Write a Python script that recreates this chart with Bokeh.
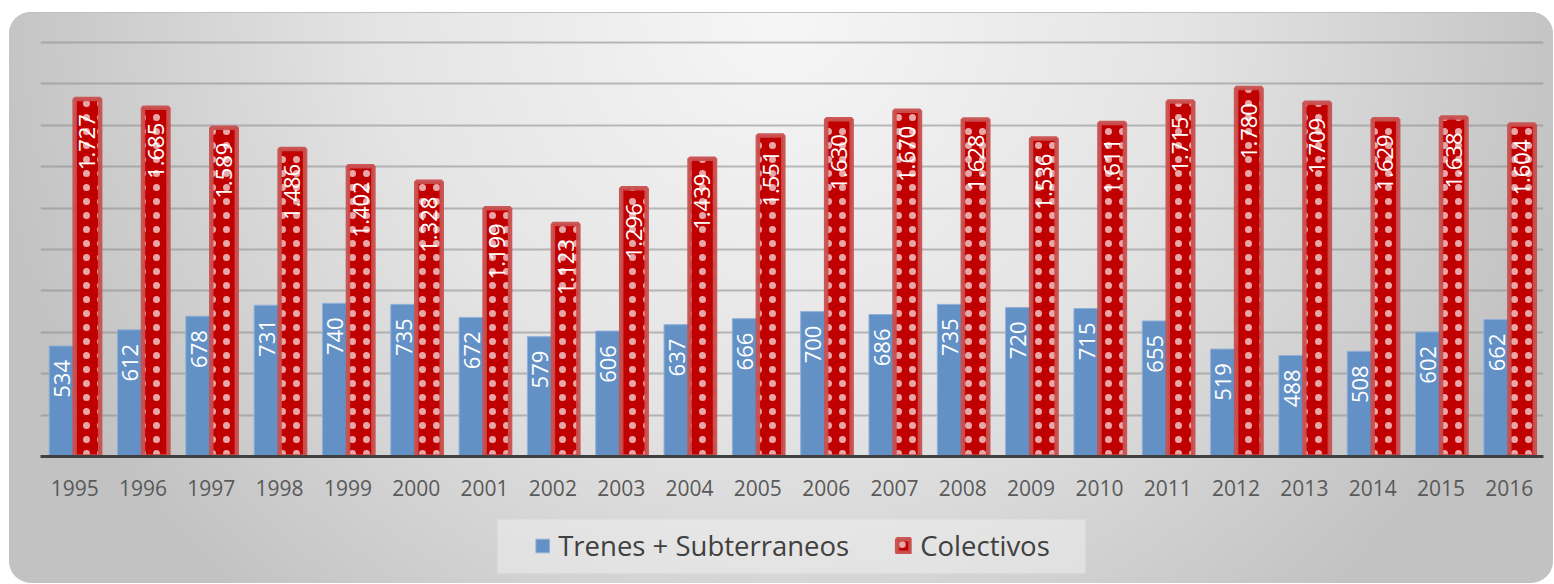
import math
from bokeh.plotting import figure
from bokeh.layouts import column
from bokeh.models import (ColumnDataSource, FactorRange, Range1d, Legend, LegendItem,
                          SingleIntervalTicker, BoxAnnotation)
from bokeh.transform import dodge
from bokeh.core.properties import value
from bokeh.embed import file_html
from bokeh.resources import INLINE

# ---- data ----
years = [str(y) for y in range(1995, 2017)]
trenes = [534, 612, 678, 731, 740, 735, 672, 579, 606, 637, 666,
          700, 686, 735, 720, 715, 655, 519, 488, 508, 602, 662]
colectivos = [1727, 1685, 1589, 1486, 1402, 1328, 1199, 1123, 1296, 1439, 1551,
              1630, 1670, 1628, 1536, 1611, 1715, 1780, 1709, 1629, 1638, 1604]
series_names = ["Trenes + Subterraneos", "Colectivos"]

trenes_lbl = [str(v) for v in trenes]
colect_lbl = [f"{v:,}".replace(",", ".") for v in colectivos]

src = ColumnDataSource(dict(years=years, trenes=trenes, colectivos=colectivos,
                            trenes_lbl=trenes_lbl, colect_lbl=colect_lbl))

FONT = "Open Sans"
BW = 0.373
OFF = BW / 2
W = 1544

BLUE = dict(fill_color="#6391c6", line_color="#8fb0d8", line_width=1)
RED = dict(fill_color="#c00000", line_color="#c9504f", line_alpha=0.95,
           line_width=4.5, hatch_pattern="dot", hatch_color="white",
           hatch_alpha=0.65, hatch_scale=14, hatch_weight=0.2)

p = figure(x_range=FactorRange(*years), y_range=Range1d(0, 2010),
           width=W, height=505, output_backend="svg", toolbar_location=None,
           min_border_left=31, min_border_right=10, min_border_top=28,
           min_border_bottom=61)
p.border_fill_alpha = 0
p.background_fill_alpha = 0
p.outline_line_color = None

# grid
p.xgrid.grid_line_color = None
p.ygrid.ticker = SingleIntervalTicker(interval=200, num_minor_ticks=0)
p.ygrid.grid_line_color = "#8a8a8a"
p.ygrid.grid_line_alpha = 0.55
p.ygrid.grid_line_width = 2

p.yaxis.visible = False

xa = p.xaxis[0]
xa.axis_line_color = "#404040"
xa.axis_line_width = 3
xa.major_tick_line_color = None
xa.minor_tick_line_color = None
xa.major_label_text_font = FONT
xa.major_label_text_font_size = "21px"
xa.major_label_text_color = "#595959"
xa.major_label_standoff = 17

p.vbar(x=dodge("years", -OFF, range=p.x_range), top="trenes", width=BW,
       source=src, **BLUE)
p.vbar(x=dodge("years", OFF, range=p.x_range), top="colectivos", width=BW,
       source=src, **RED)

p.text(x=dodge("years", -OFF, range=p.x_range), y="trenes", text="trenes_lbl",
       source=src, angle=math.pi / 2, text_align="right", text_baseline="middle",
       y_offset=14, text_color="white", text_font=value(FONT),
       text_font_size="22px")
p.text(x=dodge("years", OFF, range=p.x_range), y="colectivos", text="colect_lbl",
       source=src, angle=math.pi / 2, text_align="right", text_baseline="middle",
       y_offset=15, text_color="white", text_font=value(FONT),
       text_font_size="22px")

# ---- legend strip: proxy bars share the data but fall far outside its ranges ----
p2 = figure(width=W, height=66, x_axis_type=None, y_axis_type=None,
            x_range=Range1d(0, 1), y_range=Range1d(1, 0),
            output_backend="svg", toolbar_location=None,
            min_border_left=21, min_border_right=0, min_border_top=0,
            min_border_bottom=0)
p2.border_fill_alpha = 0
p2.background_fill_alpha = 0
p2.outline_line_color = None
p2.xgrid.visible = False
p2.ygrid.visible = False
lr1 = p2.vbar(x="trenes", top="trenes", bottom="trenes", width=0.01,
              source=src, **BLUE)
lr2 = p2.vbar(x="colectivos", top="colectivos", bottom="colectivos", width=0.01,
              source=src, **RED)

legend_box = BoxAnnotation(left=0.304, right=0.6953, top=0.0303, bottom=0.8485,
                           fill_color="#f4f4f4", fill_alpha=0.45,
                           line_color=None)
p2.add_layout(legend_box)

legend = Legend(items=[LegendItem(label=series_names[0], renderers=[lr1]),
                       LegendItem(label=series_names[1], renderers=[lr2])],
                orientation="horizontal", location="top_center")
legend.label_text_font = FONT
legend.label_text_font_size = "27.5px"
legend.label_text_color = "#404040"
legend.glyph_width = 17
legend.glyph_height = 17
legend.label_standoff = 8
legend.spacing = 46
legend.padding = 0
legend.margin = 10
legend.background_fill_alpha = 0
legend.border_line_color = None
p2.add_layout(legend)

layout = column(p, p2, spacing=0, margin=(12, 0, 0, 9))
layout.styles = {
    "background": "radial-gradient(ellipse 52% 140% at 50% 0%, #f6f6f6 0%, #e4e4e4 50%, #c2c2c2 100%)",
    "border-radius": "22px",
    "overflow": "hidden",
    "box-shadow": "inset 0 1px 0 #c0c0c0",
}

open("out.html", "w").write(file_html(layout, INLINE))
